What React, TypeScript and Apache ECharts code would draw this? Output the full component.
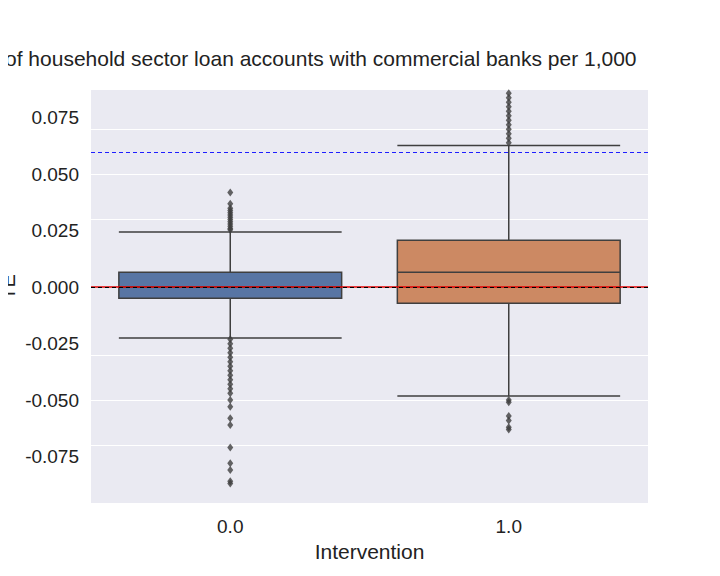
import { useRef, useEffect } from 'react'
import * as echarts from 'echarts'

const categories = ['0.0', '1.0'];
// [lower whisker, q1, median, q3, upper whisker]
const boxStats = [
  [-0.0225, -0.0049, 0.0001, 0.0066, 0.0245],
  [-0.0482, -0.0071, 0.0066, 0.0208, 0.0628],
];
const outliers0 = [0.0255, 0.026, 0.027, 0.028, 0.029, 0.030, 0.031, 0.032, 0.033, 0.034, 0.035, 0.037, 0.042,
  -0.023, -0.025, -0.027, -0.029, -0.031, -0.033, -0.035, -0.037, -0.039, -0.041, -0.043, -0.045, -0.047,
  -0.050, -0.053, -0.058, -0.061, -0.071, -0.078, -0.081, -0.086, -0.087];
const outliers1 = [0.064, 0.066, 0.068, 0.070, 0.072, 0.074, 0.076, 0.078, 0.080, 0.082, 0.084, 0.086, 0.088,
  -0.050, -0.051, -0.057, -0.059, -0.062, -0.063];
const yTicks = [-0.075, -0.05, -0.025, 0, 0.025, 0.05, 0.075];
const refLine = 0.055;

function App() {
  const chartRef = useRef<HTMLDivElement>(null);

  useEffect(() => {
    if (!chartRef.current) return;
    const myChart = echarts.init(chartRef.current, null, { renderer: 'svg' });
    const font = 'Liberation Sans, Arial, sans-serif';
    const option = {
      animation: false,
      title: {
        text: 'of household sector loan accounts with commercial banks per 1,000',
        left: 0, top: 43,
        textStyle: { fontSize: 21, fontWeight: 'normal', color: '#222', fontFamily: font },
      },
      graphic: [{ type: 'text', x: 8, y: 287, rotation: Math.PI / 2, style: { text: 'TE', fontSize: 20, fill: '#222', fontFamily: font, textAlign: 'center', textVerticalAlign: 'middle' } }],
      grid: { left: 91, right: 72, top: 90, bottom: 73, backgroundColor: '#eaeaf2', show: true, borderWidth: 0 },
      xAxis: {
        type: 'category', data: categories,
        name: 'Intervention', nameLocation: 'middle', nameGap: 38,
        nameTextStyle: { fontSize: 21, color: '#222', fontFamily: font },
        axisLine: { show: false }, axisTick: { show: false },
        axisLabel: { fontSize: 19, color: '#222', fontFamily: font, margin: 14 },
      },
      yAxis: {
        type: 'value', min: -0.0956, max: 0.0874,
        axisLine: { show: false }, axisTick: { show: false },
        splitLine: { show: false },
        axisLabel: {
          customValues: yTicks, fontSize: 19, color: '#222', fontFamily: font, margin: 12,
          formatter: (v: number) => v.toFixed(3),
        },
      },
      series: [
        {
          type: 'boxplot', boxWidth: ['80%', '80%'], z: 3,
          data: boxStats.map((s, i) => ({
            value: s,
            itemStyle: { color: i === 0 ? '#5875a4' : '#cc8963', borderColor: '#3f3f3f', borderWidth: 1.5 },
          })),
          markLine: {
            symbol: 'none', silent: true, label: { show: false }, z: 1,
            lineStyle: { color: '#fff', width: 1, type: 'solid' },
            data: yTicks.map((v) => ({ yAxis: v })),
          },
        },
        {
          type: 'scatter', symbol: 'diamond', symbolSize: [6, 8], z: 4,
          itemStyle: { color: '#3f3f3f' },
          data: [...outliers0.map((v) => ['0.0', v]), ...outliers1.map((v) => ['1.0', v])],
          markLine: {
            symbol: 'none', silent: true, label: { show: false },
            data: [
              { yAxis: 0, lineStyle: { color: '#e00000', width: 1.5, type: 'solid' } },
              { yAxis: 0, lineStyle: { color: '#000', width: 1.2, type: [4, 3] } },
              { yAxis: refLine, lineStyle: { color: '#1f1fff', width: 1.2, type: [4, 3] } },
            ],
          },
        },
      ],
    };
    myChart.setOption(option);
    return () => myChart.dispose();
  }, []);

  return <div ref={chartRef} style={{ width: '720px', height: '576px', margin: '-8px' }}></div>
}

export default App
